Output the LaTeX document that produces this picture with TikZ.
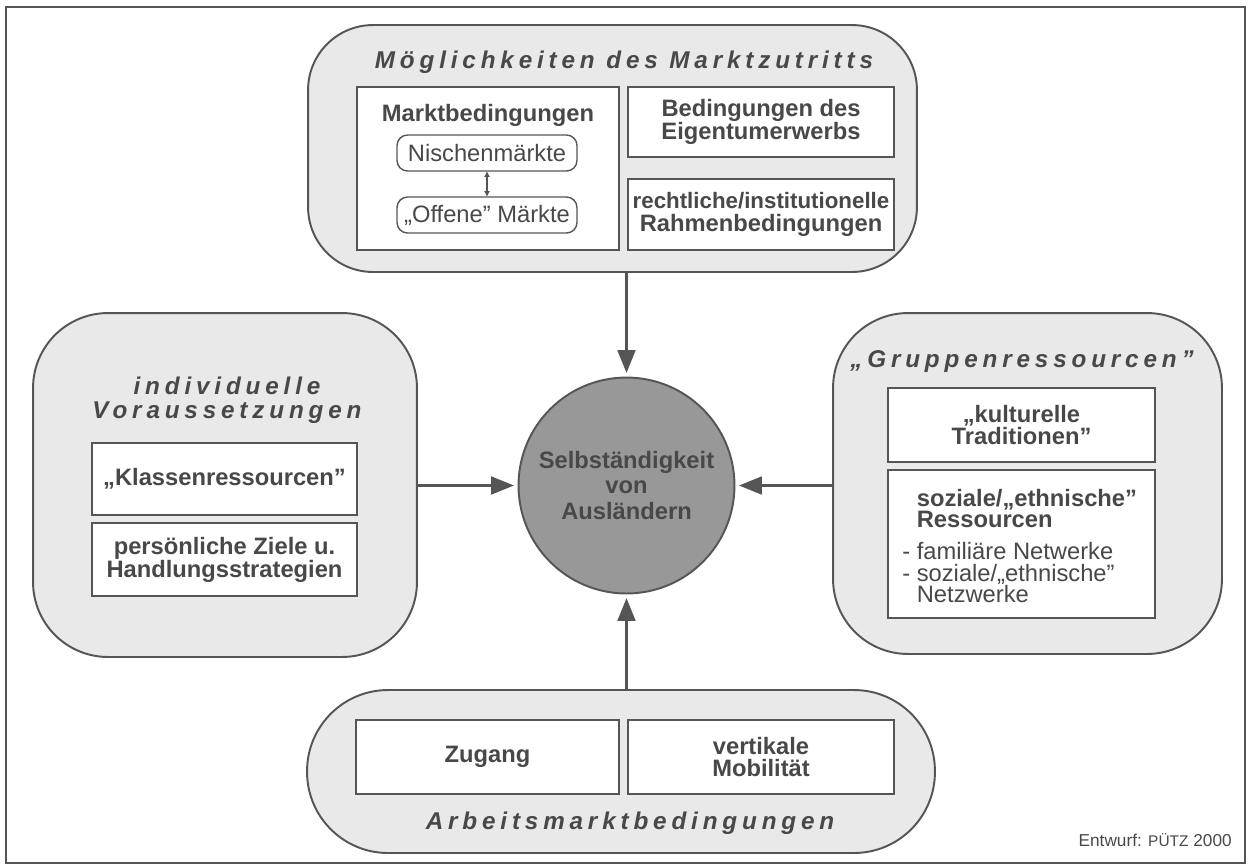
\documentclass[tikz,border=0pt]{standalone}
\usepackage{fontspec}
\setmainfont{Liberation Sans}
\newfontfamily\sperrfont[LetterSpace=20]{Liberation Sans}
\usetikzlibrary{arrows.meta,positioning}

\definecolor{linie}{RGB}{85,85,85}
\definecolor{schrift}{RGB}{72,72,72}
\definecolor{flaeche}{RGB}{233,233,233}
\definecolor{kreis}{RGB}{152,152,152}

\begin{document}
\begin{tikzpicture}[
  x=0.02cm, y=-0.02cm,
  every node/.style={text=schrift, font=\fontsize{13.5}{13}\selectfont\bfseries, inner sep=0pt},
  rahmen/.style={draw=linie, line width=1.1pt, fill=flaeche, rounded corners=1.5cm},
  feld/.style={draw=linie, line width=1pt, fill=white, align=center},
  marktfeld/.style={draw=linie, line width=0.8pt, fill=white, rounded corners=6pt, font=\fontsize{13.5}{13}\selectfont},
  titel/.style={font=\sperrfont\fontsize{13.8}{13.5}\selectfont\bfseries\itshape, align=center},
  pfeil/.style={draw=linie, line width=1.7pt, ->, shorten >=2pt},
  >={Triangle[length=13pt,width=10pt]}
]
\useasboundingbox (0,0) rectangle (1248,867);
\fill[white] (0,0) rectangle (1248,867);
\draw[linie, line width=1.1pt] (6,7) rectangle (1245,863);

% Marktzutritt
\node[rahmen, rounded corners=1.3cm, minimum width=12.18cm, minimum height=4.94cm] (markt) at (612.5,148.5) {};
\node[titel] (markttitel) at (624,62) {Möglichkeiten des Marktzutritts};
\node[feld, minimum width=5.25cm, minimum height=3.26cm] (bedingung) at (488,168.5) {};
\node (bedtext) at (488,115) {Marktbedingungen};
\node[marktfeld, minimum width=3.6cm, minimum height=0.72cm] (nische) at (487,153) {Nischenmärkte};
\node[marktfeld, minimum width=3.6cm, minimum height=0.72cm] (offen) at (487,215) {„Offene” Märkte};
\draw[linie, line width=0.6pt, {Triangle[length=3pt,width=3pt]}-{Triangle[length=3pt,width=3pt]}] (nische) -- (offen);
\node[feld, minimum width=5.32cm, minimum height=1.4cm] (eigentum) at (761,122) {Bedingungen des\\Eigentumerwerbs};
\node[feld, minimum width=5.32cm, minimum height=1.42cm] (recht) at (761,214.5) {{\fontsize{12.7}{13}\selectfont rechtliche/institutionelle}\\Rahmenbedingungen};

% Zentrum
\node[circle, draw=linie, line width=1.1pt, fill=kreis, minimum size=4.32cm, align=center, font=\fontsize{13.5}{14.7}\selectfont\bfseries] (selbst) at (626.5,485.5) {Selbständigkeit\\von\\Ausländern};

% individuelle Voraussetzungen
\node[rahmen, minimum width=7.68cm, minimum height=6.88cm] (indiv) at (225,485) {};
\node[titel] (indivtitel) at (227,400) {individuelle\\Voraussetzungen};
\node[feld, minimum width=5.3cm, minimum height=1.44cm] (klasse) at (224.5,479) {„Klassenressourcen”};
\node[feld, minimum width=5.3cm, minimum height=1.46cm] (ziele) at (224.5,559.5) {persönliche Ziele u.\\Handlungsstrategien};

% Gruppenressourcen
\node[rahmen, minimum width=7.78cm, minimum height=6.82cm] (gruppe) at (1027.5,483.5) {};
\node[titel] (gruppetitel) at (1022,362) {„Gruppenressourcen”};
\node[feld, minimum width=5.34cm, minimum height=1.48cm] (kultur) at (1021.5,425) {„kulturelle\\Traditionen”};
\node[feld, minimum width=5.34cm, minimum height=2.96cm] (sozial) at (1021.5,544) {};
\node[anchor=north west, align=left, font=\fontsize{13.5}{12.2}\selectfont] (soztext) at (902,489)
  {\bfseries\phantom{- }soziale/„ethnische”\\
   \bfseries\phantom{- }Ressourcen\\[6pt]
   \mdseries - familiäre Netwerke\\
   \mdseries - soziale/„ethnische”\\
   \mdseries\phantom{- }Netzwerke};

% Arbeitsmarkt
\node[rahmen, rounded corners=1.62cm, minimum width=12.56cm, minimum height=3.26cm] (arbeit) at (621,771.5) {};
\node[feld, minimum width=5.26cm, minimum height=1.48cm] (zugang) at (487.5,757) {Zugang};
\node[feld, minimum width=5.32cm, minimum height=1.48cm] (mobil) at (761,757) {vertikale\\Mobilität};
\node[titel] (arbeittitel) at (630,823) {Arbeitsmarktbedingungen};

\draw[pfeil] (selbst.north |- markt.south) -- (selbst.north);
\draw[pfeil] (selbst.south |- arbeit.north) -- (selbst.south);
\draw[pfeil] (indiv.east |- selbst.center) -- (selbst.west);
\draw[pfeil] (gruppe.west |- selbst.center) -- (selbst.east);

\node[anchor=east, font=\fontsize{9.8}{11}\selectfont] (entwurf) at (1232,840) {Entwurf: {\fontsize{8.8}{10}\selectfont PÜTZ} 2000};
\end{tikzpicture}
\end{document}
